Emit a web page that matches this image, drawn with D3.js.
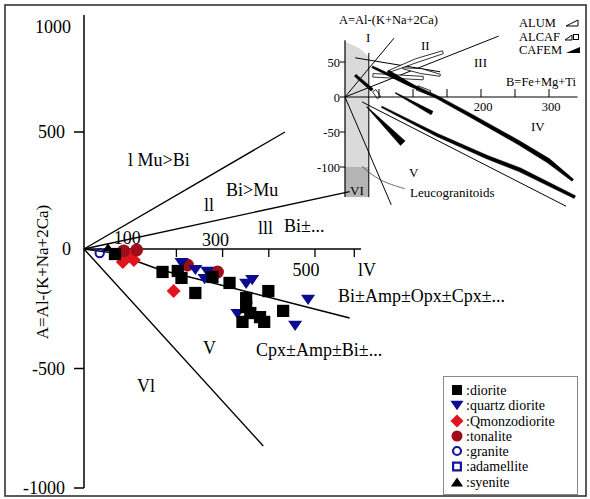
<!DOCTYPE html>
<html><head><meta charset="utf-8">
<script src="https://cdn.jsdelivr.net/npm/d3@7"></script>
<style>
body{margin:0;background:#fff}
svg{display:block}
text{font-family:"Liberation Serif","Times New Roman",serif;fill:#000}
</style>
</head><body>
<svg id="c" width="590" height="499"></svg>
<script>
// ---------------- main diagram data (B = Fe+Mg+Ti, A = Al-(K+Na+2Ca)) ----------------
const dioriteB  = [67,170,203,211,241,278,315,399,351,351,360,343,381,390,431];
const dioriteA  = [-21,-96,-92,-121,-184,-117,-142,-176,-205,-243,-268,-305,-285,-305,-259];
const qDioriteB = [211,241,261,267,351,364,332,485,457];
const qDioriteA = [-59,-88,-126,-96,-146,-130,-272,-213,-322];
const qMonzB    = [84,108,97,194];
const qMonzA    = [-54,-46,-29,-176];
const tonaliteB = [86,114,224,289];
const tonaliteA = [-8,-4,-67,-96];
const graniteB  = [34];
const graniteA  = [-17];
const adamelliteB = [];
const adamelliteA = [];
const syeniteB  = [52];
const syeniteA  = [8];

const yTickValues = [-1000,-500,0,500,1000];
const yTickMarks  = [-1000,-500,500];
const xTickMarks  = [200,300,400,500,585];
const xTickLabels = [100,300,500];

// field boundaries (data units)
const lineI_II   = [[0,0],[435,500]];
const lineII_III = [[0,0],[575,245]];
const lineV_VI   = [[0,0],[388,-824]];
const trendIV_V  = [[0,0],[65,-17],[166,-88],[237,-121],[575,-289]];

// ---------------- inset data ----------------
const insetYTicks = [50,0,-50,-100];
const insetXTicks = [50,100,150,200,250,300];
const insetXLabels = [200,300];
const inI_II   = [[0,0],[72,84]];
const inII_III = [[0,0],[226,87]];
const inV_VI   = [[0,0],[68,-154]];
const inIV_V   = [[25,-7],[325,-156]];
const inLeuco  = [[35,63],[35,-143]];
const inThin   = [[15,56],[140,36]];
const grayArea = [[0,79],[15,73],[26,66],[35,57],[35,-143],[0,-143]];
const darkGray = [[0,-100],[35,-100],[35,-143],[0,-143]];
const leader   = [[25,-99],[88,-131]];
// CAFEM trends (filled black)
const cafemUpper = [[40,43],[88,21],[135,0],[184,-26],[257,-66],[299,-91],[335,-119]];
const cafemLower = [[54,-14],[135,-54],[209,-86],[257,-104],[338,-143]];
const cafemShort = [[74,6],[128,-23]];
const cafemWedge = [[32,-14],[85,-66]];
const cafemA     = [[15,31],[40,10]];
const cafemC     = [[63,37],[99,16]];
// ALUM / ALCAF trends (open)
const alumLoop  = [[66,37],[105,52],[144,64]];
const alumLeaf  = [[85,41],[112,37],[140,31]];
const alcafRect = [[41,31],[115,27]];
const alcafBox1 = [[106,13],[125,6]];
const alcafBox2 = [[43,9],[50,-1]];

const legendNames = [":diorite",":quartz diorite",":Qmonzodiorite",":tonalite",":granite",":adamellite",":syenite"];

// ---------------- setup ----------------
const svg = d3.select("#c");
const x = d3.scaleLinear().domain([0,600]).range([84, 84+600*0.462]);
const y = d3.scaleLinear().domain([-1000,0,1000]).range([488,249,15]);
const xi = d3.scaleLinear().domain([0,300]).range([345,549]);
const yi = d3.scaleLinear().domain([-100,50]).range([167,62]);

const line = (sx,sy)=>d3.line().x(d=>sx(d[0])).y(d=>sy(d[1]));

// outer frame
svg.append("rect").attr("x",5).attr("y",5).attr("width",581).attr("height",491)
  .attr("fill","none").attr("stroke","#333").attr("stroke-width",1.6);

// ---------------- inset ----------------
const gi = svg.append("g");
gi.append("path").attr("d", line(xi,yi).curve(d3.curveLinearClosed)(grayArea)).attr("fill","#dadada");
gi.append("path").attr("d", line(xi,yi).curve(d3.curveLinearClosed)(darkGray)).attr("fill","#b4b4b4");

function bandPath(pts, widths, sx, sy){
  const P = pts.map(p=>[sx(p[0]), sy(p[1])]);
  const L=[], R=[];
  P.forEach((p,i)=>{
    const a=P[Math.max(0,i-1)], b=P[Math.min(P.length-1,i+1)];
    const dx=b[0]-a[0], dy=b[1]-a[1], len=Math.hypot(dx,dy)||1;
    const nx=-dy/len, ny=dx/len, h=widths[i]/2;
    L.push([p[0]+nx*h,p[1]+ny*h]); R.push([p[0]-nx*h,p[1]-ny*h]);
  });
  return d3.line().curve(d3.curveLinearClosed)(L.concat(R.reverse()));
}

[inI_II,inII_III,inV_VI,inIV_V,inLeuco,inThin].forEach(l=>{
  gi.append("path").attr("d",line(xi,yi)(l)).attr("fill","none").attr("stroke","#000").attr("stroke-width",1);
});
gi.append("path").attr("d",line(xi,yi).curve(d3.curveBasis)([leader[0],[50,-120],leader[1]]))
  .attr("fill","none").attr("stroke","#444").attr("stroke-width",0.8);

// open ALUM/ALCAF
[[alumLoop,[2,4,3]],[alumLeaf,[1,5,2]],[alcafRect,[3.5,3.5]],[alcafBox1,[4.5,4.5]],[alcafBox2,[4,4]]].forEach(([p,w])=>{
  gi.append("path").attr("d",bandPath(p,w,xi,yi)).attr("fill","#fff").attr("stroke","#000").attr("stroke-width",0.8);
});
// CAFEM filled
[[cafemUpper,[2,3,3,3.5,4,4.5,2.5]],[cafemLower,[1.5,3,3.5,4,3]],[cafemShort,[0.8,4]],[cafemWedge,[0.5,6.5]],[cafemA,[2.5,3]],[cafemC,[2.5,3]]].forEach(([p,w])=>{
  gi.append("path").attr("d",bandPath(p,w,xi,yi)).attr("fill","#000").attr("stroke","#000").attr("stroke-width",0.5).attr("stroke-linejoin","round");
});

// inset axes
gi.append("line").attr("x1",xi(0)).attr("x2",xi(0)).attr("y1",yi(81)).attr("y2",yi(-143)).attr("stroke","#000").attr("stroke-width",1.2);
gi.append("line").attr("x1",xi(0)).attr("x2",xi(342)).attr("y1",yi(0)).attr("y2",yi(0)).attr("stroke","#000").attr("stroke-width",1.2);
insetYTicks.forEach(v=>{
  gi.append("line").attr("x1",xi(0)-5).attr("x2",xi(0)).attr("y1",yi(v)).attr("y2",yi(v)).attr("stroke","#000");
  gi.append("text").attr("x",xi(0)-5).attr("y",yi(v)+4.5).attr("text-anchor","end").attr("font-size",12.5).text(v);
});
insetXTicks.forEach(v=>{
  gi.append("line").attr("x1",xi(v)).attr("x2",xi(v)).attr("y1",yi(0)-8).attr("y2",yi(0)).attr("stroke","#000");
});
insetXLabels.forEach(v=>{
  gi.append("text").attr("x",xi(v)+2).attr("y",yi(0)+14).attr("text-anchor","middle").attr("font-size",12.5).text(v);
});
const itxt=(t,xx,yy,fs)=>gi.append("text").attr("x",xx).attr("y",yy).attr("font-size",fs||12.5).text(t);
itxt("A=Al-(K+Na+2Ca)",339,24);
itxt("B=Fe+Mg+Ti",506,86);
itxt("I",366,42,13); itxt("II",421,50,13); itxt("III",474,67,13); itxt("IV",531,131,13);
itxt("V",409,177,13); itxt("VI",350,195,13);
itxt("Leucogranitoids",410,197,13);
itxt("ALUM",519,27); itxt("ALCAF",519,41); itxt("CAFEM",519,54);
// inset legend glyphs
gi.append("path").attr("d","M566,26 L578,26 L578,20 Z").attr("fill","#fff").attr("stroke","#000").attr("stroke-width",1);
gi.append("path").attr("d","M565,40 L572,40 L572,35 Z").attr("fill","#fff").attr("stroke","#000").attr("stroke-width",1);
gi.append("rect").attr("x",573.5).attr("y",34.5).attr("width",5).attr("height",5).attr("fill","#fff").attr("stroke","#000").attr("stroke-width",1);
gi.append("path").attr("d","M566,53 L580,53 L580,47 Z").attr("fill","#000");

// ---------------- main axes ----------------
const g = svg.append("g");
g.append("line").attr("x1",x(0)).attr("x2",x(0)).attr("y1",y(1000)).attr("y2",y(-1000)).attr("stroke","#000").attr("stroke-width",1.5);
g.append("line").attr("x1",x(0)).attr("x2",361).attr("y1",y(0)).attr("y2",y(0)).attr("stroke","#000").attr("stroke-width",1.5);
yTickMarks.forEach(v=>g.append("line").attr("x1",x(0)-10).attr("x2",x(0)).attr("y1",y(v)).attr("y2",y(v)).attr("stroke","#000").attr("stroke-width",1.5));
yTickValues.forEach(v=>{
  const yy = v===1000 ? y(v)+18 : y(v)+6;
  g.append("text").attr("x", v===0||v===1000 ? 71 : 65).attr("y",yy).attr("text-anchor","end").attr("font-size",18).text(v);
});
xTickMarks.forEach(v=>g.append("line").attr("x1",x(v)).attr("x2",x(v)).attr("y1",y(0)).attr("y2",y(0)+8).attr("stroke","#000").attr("stroke-width",1.3));
const xLabOff = {100:[-3,-5],300:[-7,-3],500:[-9,27]};
xTickLabels.forEach(v=>{
  g.append("text").attr("x",x(v)+xLabOff[v][0]).attr("y",y(0)+xLabOff[v][1]).attr("text-anchor","middle").attr("font-size",18).text(v);
});
g.append("text").attr("transform","translate(48,272) rotate(-90)").attr("text-anchor","middle").attr("font-size",17).text("A=Al-(K+Na+2Ca)");

// boundaries
[lineI_II,lineII_III,lineV_VI].forEach(l=>g.append("path").attr("d",line(x,y)(l)).attr("fill","none").attr("stroke","#000").attr("stroke-width",1.4));
g.append("path").attr("d",line(x,y)(trendIV_V)).attr("fill","none").attr("stroke","#000").attr("stroke-width",1.6);

// region labels
const mtxt=(t,xx,yy)=>g.append("text").attr("x",xx).attr("y",yy).attr("font-size",18).text(t);
mtxt("l Mu>Bi",128,166);
mtxt("Bi>Mu",226,196);
mtxt("ll",204,211);
mtxt("lll",258,234);
mtxt("Bi±...",284,232);
mtxt("lV",358,276);
mtxt("Bi±Amp±Opx±Cpx±...",338,302);
mtxt("V",203,354);
mtxt("Cpx±Amp±Bi±...",256,356);
mtxt("Vl",137,392);

// ---------------- symbols ----------------
const triDown = {draw(ctx,s){const w=Math.sqrt(s),h=w*0.72;ctx.moveTo(-w/2,-h/2);ctx.lineTo(w/2,-h/2);ctx.lineTo(0,h/2);ctx.closePath();}};
const triUp   = {draw(ctx,s){const w=Math.sqrt(s),h=w*0.75;ctx.moveTo(-w/2,h/2);ctx.lineTo(w/2,h/2);ctx.lineTo(0,-h/2);ctx.closePath();}};
const diamond = {draw(ctx,s){const r=Math.sqrt(s)/2;ctx.moveTo(0,-r);ctx.lineTo(r,0);ctx.lineTo(0,r);ctx.lineTo(-r,0);ctx.closePath();}};

const series = [
  {B:qMonzB, A:qMonzA, type:diamond, size:196, fill:"#e3141c", stroke:"none"},
  {B:tonaliteB, A:tonaliteA, type:d3.symbolCircle, size:130, fill:"#9e0d18", stroke:"none"},
  {B:graniteB, A:graniteA, type:d3.symbolCircle, size:55, fill:"none", stroke:"#1515a0"},
  {B:adamelliteB, A:adamelliteA, type:d3.symbolSquare, size:60, fill:"none", stroke:"#1515a0"},
  {B:syeniteB, A:syeniteA, type:triUp, size:110, fill:"#000", stroke:"none"},
  {B:qDioriteB, A:qDioriteA, type:triDown, size:200, fill:"#0c0c90", stroke:"none"},
  {B:dioriteB, A:dioriteA, type:d3.symbolSquare, size:150, fill:"#000", stroke:"none"}
];
series.forEach(s=>{
  g.selectAll(null).data(s.B.map((b,i)=>[b,s.A[i]])).enter().append("path")
    .attr("transform",d=>`translate(${x(d[0])},${y(d[1])})`)
    .attr("d",d3.symbol().type(s.type).size(s.size)())
    .attr("fill",s.fill).attr("stroke",s.stroke).attr("stroke-width",2);
});

// ---------------- legend ----------------
const lg = svg.append("g");
lg.append("rect").attr("x",443.5).attr("y",376.5).attr("width",134).attr("height",118).attr("fill","#fff").attr("stroke","#8a8a8a").attr("stroke-width",1);
const legSym = [
  {type:d3.symbolSquare,size:100,fill:"#000",stroke:"none"},
  {type:triDown,size:170,fill:"#0c0c90",stroke:"none"},
  {type:diamond,size:170,fill:"#e3141c",stroke:"none"},
  {type:d3.symbolCircle,size:95,fill:"#9e0d18",stroke:"none"},
  {type:d3.symbolCircle,size:50,fill:"none",stroke:"#1515a0"},
  {type:d3.symbolSquare,size:60,fill:"none",stroke:"#1515a0"},
  {type:triUp,size:150,fill:"#000",stroke:"none"}
];
const legY = [390,405.5,421,436,451,466.5,482];
legendNames.forEach((n,i)=>{
  const s=legSym[i];
  lg.append("path").attr("transform",`translate(457,${legY[i]})`).attr("d",d3.symbol().type(s.type).size(s.size)())
    .attr("fill",s.fill).attr("stroke",s.stroke).attr("stroke-width",2.2);
  lg.append("text").attr("x",466).attr("y",legY[i]+4.5).attr("font-size",14).text(n);
});
</script>
</body></html>
